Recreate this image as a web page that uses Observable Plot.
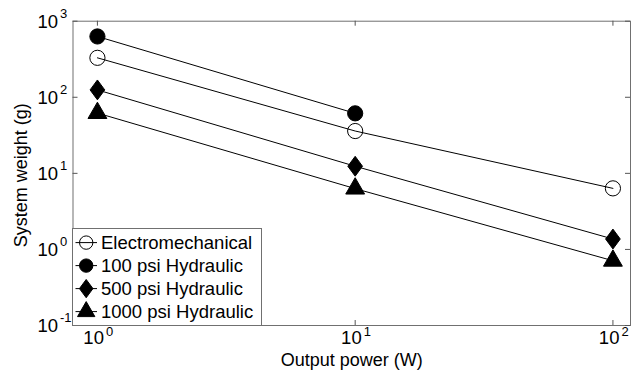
<!DOCTYPE html>
<html><head><meta charset="utf-8">
<script src="https://cdn.jsdelivr.net/npm/d3@7"></script>
<script src="https://cdn.jsdelivr.net/npm/@observablehq/plot@0.6"></script>
<style>
body{margin:0;background:#fff;font-family:"Liberation Sans",Arial,sans-serif;}
#wrap{position:relative;width:631px;height:379px;overflow:hidden;}
#legend{position:absolute;left:72px;top:228px;}
</style></head><body><div id="wrap"></div>
<script>
const powers = [1, 10, 100];
const electromechanical = [330, 36, 6.35];
const hydraulic100 = [630, 61.5];
const hydraulic500 = [125, 12.4, 1.37];
const hydraulic1000 = [62, 6.3, 0.71];
const seriesNames = ["Electromechanical", "100 psi Hydraulic", "500 psi Hydraulic", "1000 psi Hydraulic"];
const xTicks = [1, 10, 100];
const xExponents = ["0", "1", "2"];
const yTicks = [0.1, 1, 10, 100, 1000];
const yExponents = ["-1", "0", "1", "2", "3"];

const seriesValues = [electromechanical, hydraulic100, hydraulic500, hydraulic1000];
const rows = [];
seriesValues.forEach((vals, i) => vals.forEach((v, j) => rows.push({series: seriesNames[i], power: powers[j], weight: v})));

// wider diamond like MATLAB's
const wideDiamond = {
  draw(context, size) {
    const r = Math.sqrt(size / Math.PI);
    const h = r * 1.6, w = h * 0.74;
    context.moveTo(0, -h); context.lineTo(w, 0); context.lineTo(0, h); context.lineTo(-w, 0); context.closePath();
  }
};

const markerStyle = {
  "Electromechanical": {symbol: d3.symbolCircle, fill: "none", stroke: "black", r: 7.6},
  "100 psi Hydraulic": {symbol: d3.symbolCircle, fill: "black", stroke: "black", r: 7.6},
  "500 psi Hydraulic": {symbol: wideDiamond, fill: "black", stroke: "black", r: 6.2},
  "1000 psi Hydraulic": {symbol: d3.symbolTriangle, fill: "black", stroke: "black", r: 7.0}
};

const W = 631, H = 379;
const mL = 72.5, mR = 1, mT = 20.7, mB = 54;
const frameW = W - mL - mR, frameH = H - mT - mB;
const font = "Liberation Sans, Arial, sans-serif";

const marks = [
  Plot.frame({stroke: "#707070"}),
  // inward ticks
  Plot.tickX(xTicks, {x: d => d, insetTop: frameH - 5, stroke: "#555"}),
  Plot.tickX(xTicks, {x: d => d, insetBottom: frameH - 5, stroke: "#555"}),
  Plot.tickY(yTicks, {y: d => d, insetRight: frameW - 5, stroke: "#555"}),
  Plot.tickY(yTicks, {y: d => d, insetLeft: frameW - 5, stroke: "#555"}),
  // x tick labels
  Plot.text(xTicks, {x: d => d, frameAnchor: "bottom", dy: 18.5, dx: 6.5, text: () => "10", textAnchor: "end", fontSize: 18.5, fill: "black"}),
  Plot.text(xTicks, {x: d => d, frameAnchor: "bottom", dy: 10, dx: 8.5, text: (d, i) => xExponents[i], textAnchor: "start", fontSize: 13, fill: "black"}),
  // y tick labels
  Plot.text(yTicks, {y: d => d, frameAnchor: "left", dx: -15, dy: 1, text: () => "10", textAnchor: "end", fontSize: 18.5, fill: "black"}),
  Plot.text(yTicks, {y: d => d, frameAnchor: "left", dx: -13, dy: -7.5, text: (d, i) => yExponents[i], textAnchor: "start", fontSize: 13, fill: "black"}),
  // axis labels
  Plot.text(["Output power (W)"], {frameAnchor: "bottom", dy: 40, text: d => d, textAnchor: "middle", fontSize: 18, fill: "black"}),
  Plot.text(["System weight (g)"], {frameAnchor: "left", dx: -52, dy: 2, rotate: -90, text: d => d, textAnchor: "middle", fontSize: 18, fill: "black"}),
  // data lines
  Plot.line(rows, {x: "power", y: "weight", z: "series", stroke: "black", strokeWidth: 1})
];
for (const name of seriesNames) {
  const s = markerStyle[name];
  marks.push(Plot.dot(rows.filter(d => d.series === name), {x: "power", y: "weight", symbol: () => s.symbol, r: s.r, fill: s.fill, stroke: s.stroke, strokeWidth: 1}));
}

const chart = Plot.plot({
  width: W, height: H,
  marginLeft: mL, marginRight: mR, marginTop: mT, marginBottom: mB,
  style: {fontFamily: font, background: "white", overflow: "visible"},
  x: {type: "log", domain: [0.804, 117], axis: null},
  y: {type: "log", domain: [0.1, 1000], axis: null},
  symbol: {type: "identity"},
  marks
});
document.getElementById("wrap").appendChild(chart);

// legend overlay
const lw = 189, lh = 97;
const leg = d3.select("#wrap").append("svg").attr("id", "legend").attr("width", lw + 1).attr("height", lh + 1);
leg.append("rect").attr("x", 0.5).attr("y", 0.5).attr("width", lw).attr("height", lh).attr("fill", "white").attr("stroke", "#707070");
seriesNames.forEach((name, i) => {
  const s = markerStyle[name];
  const cy = 14.6 + i * 23;
  const g = leg.append("g").attr("transform", `translate(0,${cy})`);
  g.append("line").attr("x1", 3.5).attr("x2", 25).attr("y1", 0).attr("y2", 0).attr("stroke", "black");
  const rr = s.symbol === d3.symbolCircle ? s.r * 0.88 : s.r * 0.92;
  g.append("path").attr("transform", "translate(14.2,0)")
    .attr("d", d3.symbol(s.symbol, Math.PI * rr * rr)())
    .attr("fill", s.fill).attr("stroke", s.stroke);
  g.append("text").attr("x", 29).attr("y", 0).attr("dy", "0.35em").attr("font-size", 18.5).attr("font-family", font).attr("fill", "black").text(name);
});
</script>
</body></html>
